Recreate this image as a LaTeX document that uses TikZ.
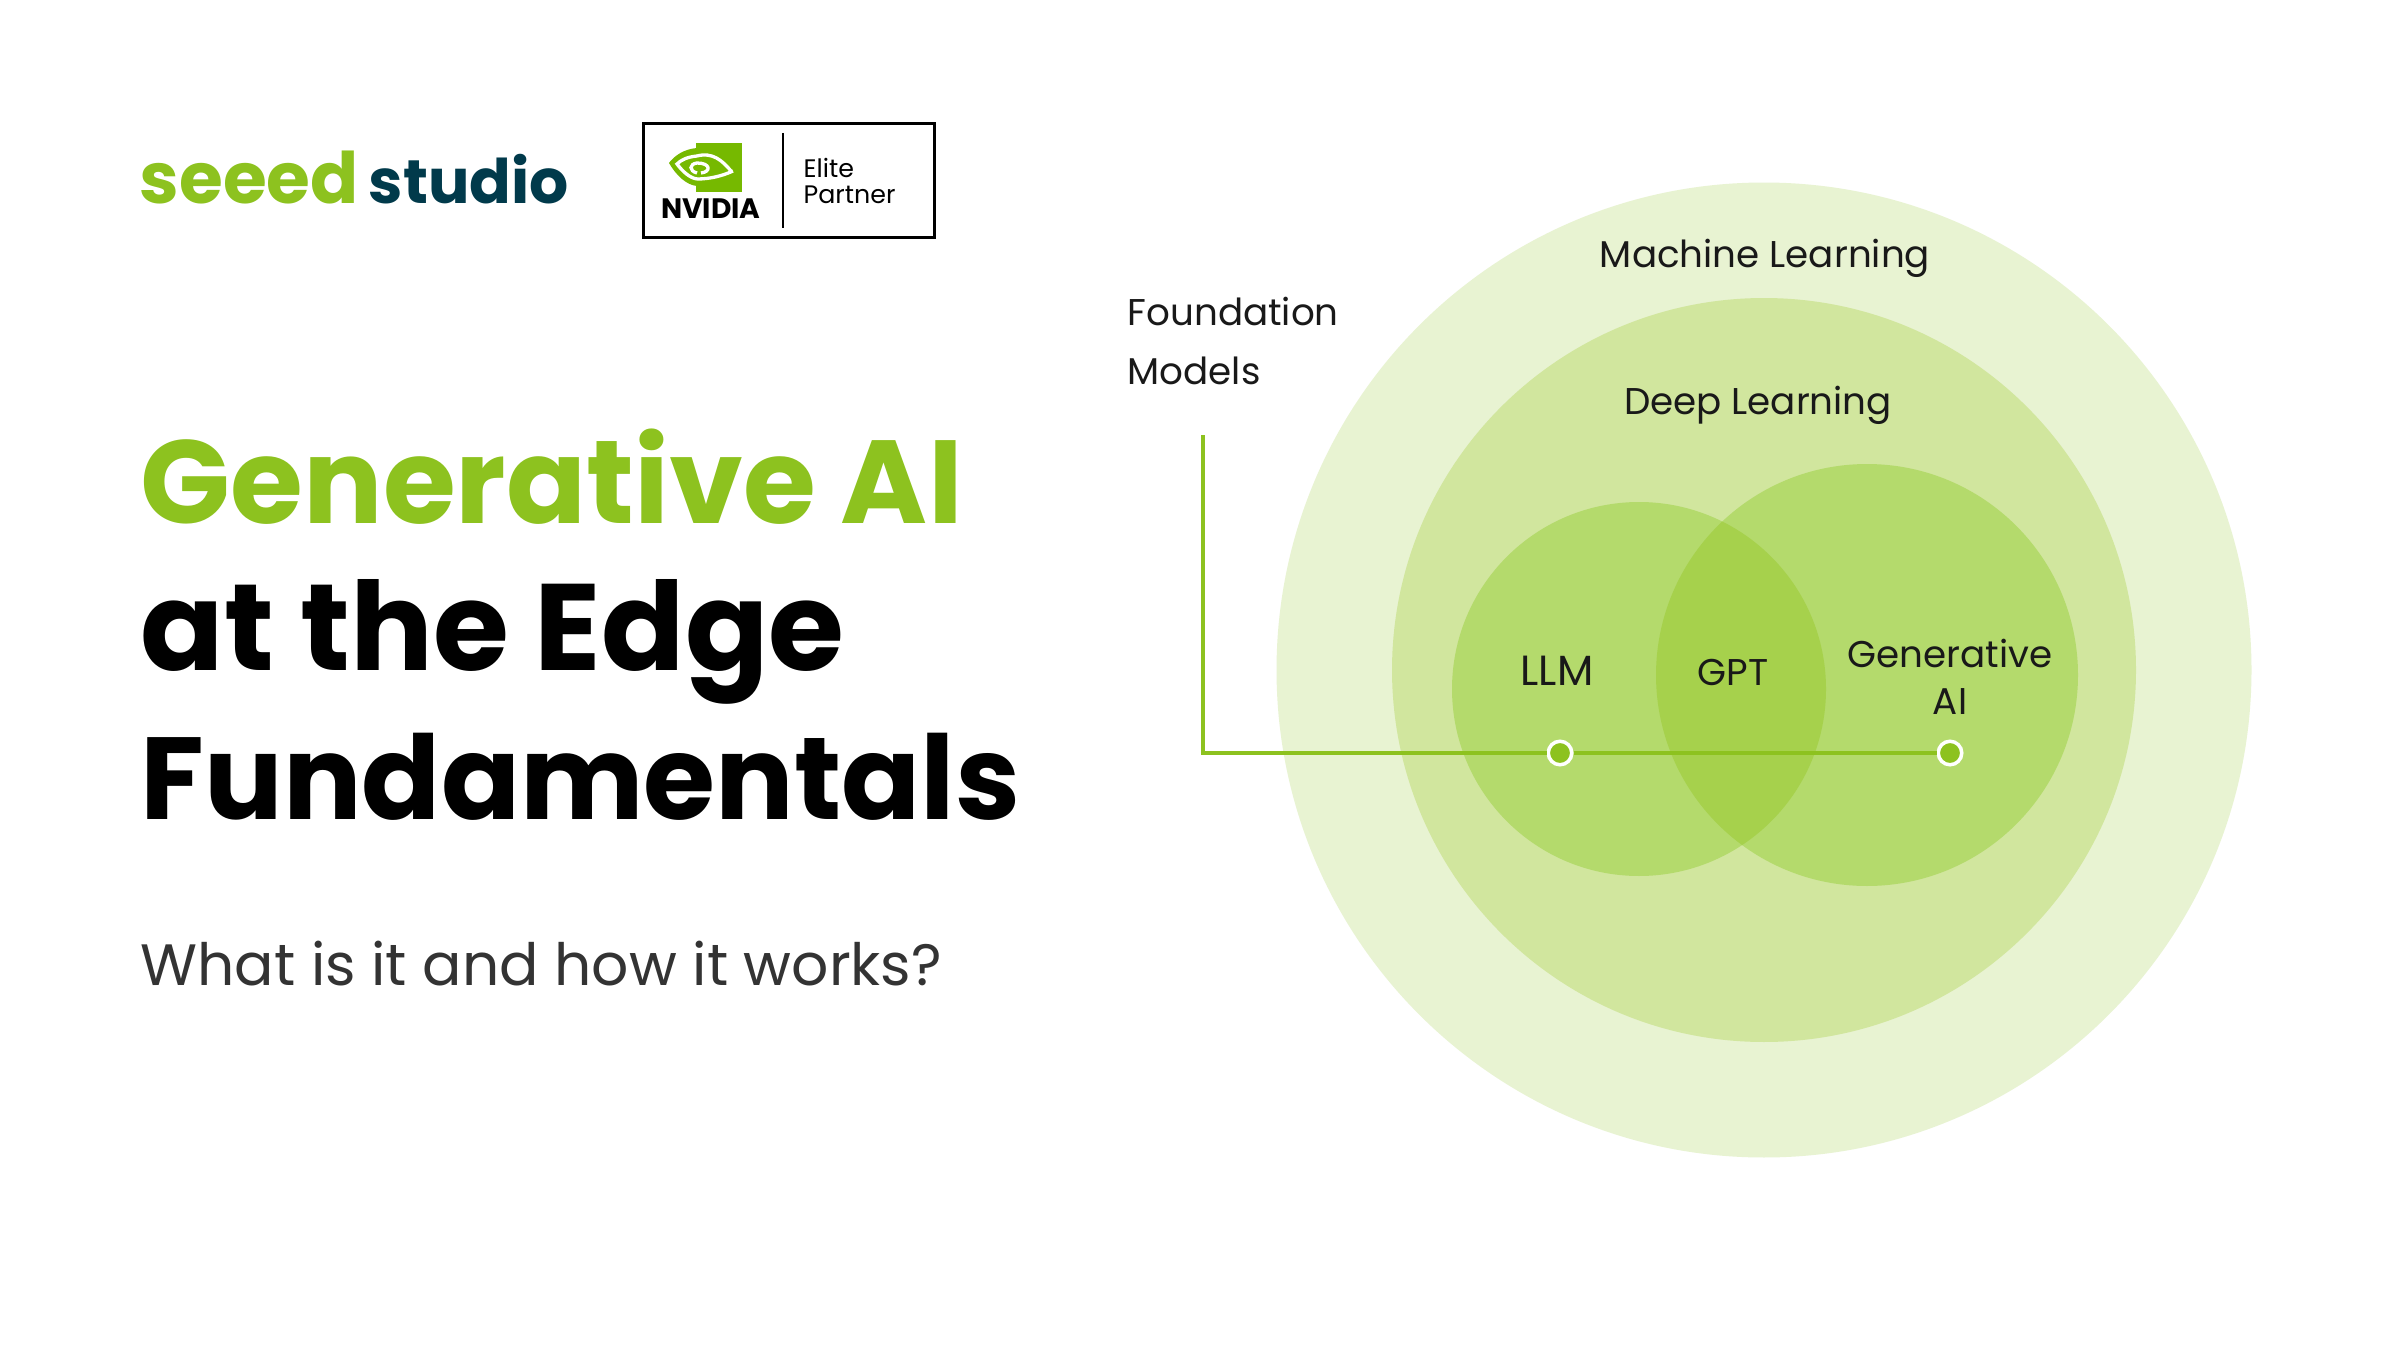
\documentclass[tikz,border=0pt]{standalone}
\usepackage{fontspec}
\setmainfont{Poppins}
\usetikzlibrary{positioning, calc}

\definecolor{seeedgreen}{HTML}{8DC21F}
\definecolor{seeednavy}{HTML}{013A4B}
\definecolor{nvgreen}{HTML}{76B900}
\definecolor{ringa}{HTML}{E8F3D2}
\definecolor{ringb}{HTML}{D1E69E}
\definecolor{ringc}{HTML}{B4DA6C}
\definecolor{ringd}{HTML}{A6D14C}
\definecolor{subgray}{HTML}{333333}

\begin{document}
\begin{tikzpicture}[
    x=0.1mm, y=-0.1mm,
    ring/.style={circle, draw=none, inner sep=0pt, minimum size=#1*0.2mm},
    title/.style={anchor=base west, font=\fontsize{#1}{#1}\selectfont\bfseries, inner sep=0pt},
    label/.style={anchor=base, font=\fontsize{10.6}{12}\selectfont, text=black!90, inner sep=0pt, align=center},
    dot/.style={circle, draw=white, line width=0.35mm, fill=seeedgreen, inner sep=0pt, minimum size=2.35mm},
    link/.style={draw=seeedgreen, line width=0.4mm},
    logotext/.style={anchor=base west, inner sep=0pt, font=\fontsize{#1}{18}\selectfont\bfseries},
    badgetext/.style={anchor=base west, inner sep=0pt, font=\fontsize{7.2}{8}\selectfont},
    eyeline/.style={white, line width=0.33mm},
]
    \useasboundingbox[fill=white] (0,0) rectangle (2400,1350);

    % logos
    \node[logotext=20.2, text=seeedgreen] (seeed) at (139,204) {seeed};
    \node[logotext=17.5, text=seeednavy] (studio) at (368,204) {studio};
    \node[draw=black, line width=0.3mm, minimum width=29.1mm, minimum height=11.4mm, inner sep=0pt] (badge) at (789,180.5) {};
    \draw[line width=0.15mm] (783,133) -- (783,228);
    \fill[nvgreen] (696,143) rectangle (742,192);
    \fill[nvgreen] (697,148) .. controls (684,149) and (674,156) .. (669,163)
        .. controls (676,175) and (686,185) .. (697,186) -- cycle;
    \draw[eyeline] (697,156) .. controls (687,157) and (681,160) .. (677,164)
        .. controls (683,172) and (690,178) .. (697,179);
    \draw[eyeline] (697,179) .. controls (710,179) and (722,176) .. (733,171);
    \draw[eyeline] (697,156) .. controls (712,152) and (722,160) .. (731,171);
    \draw[eyeline] (701,173) .. controls (711,172) and (711,163) .. (697,163)
        .. controls (689,164) and (689,171) .. (697,173);
    \node[anchor=base, inner sep=0pt, font=\fontsize{8}{9}\selectfont\bfseries] (nvidia) at (711,219) {NVIDIA};
    \node[badgetext] (elite) at (803,178) {Elite};
    \node[badgetext] (partner) at (803,203) {Partner};

    % headline
    \node[title=33.6, text=seeedgreen] (gen)  at (140,523) {Generative AI};
    \node[title=35,   text=black]      (edge) at (140,670) {at the Edge};
    \node[title=33.2, text=black]      (fund) at (140,819) {Fundamentals};
    \node[anchor=base west, inner sep=0pt, font=\fontsize{16.6}{17}\selectfont, text=subgray] (sub) at (140,985) {What is it and how it works?};

    % nested rings
    \node[ring=487.5, fill=ringa] (ml)  at (1764,670) {};
    \node[ring=372,   fill=ringb] (dl)  at (1764,670) {};
    \node[ring=187,   fill=ringc] (llm) at (1639,689) {};
    \node[ring=211,   fill=ringc] (gai) at (1867,675) {};
    \begin{scope}
        \clip (1639,689) circle [radius=187];
        \node[ring=211, fill=ringd] (gpt) at (1867,675) {};
    \end{scope}

    % labels
    \node[label] (mltext)  at (1765,268) {Machine Learning};
    \node[label] (dltext)  at (1758,414) {Deep Learning};
    \node[label, font=\fontsize{12}{12}\selectfont] (llmtext) at (1557,685) {LLM};
    \node[label] (gpttext) at (1733,685) {GPT};
    \node[label] (gaitext) at (1950,667) {Generative};
    \node[label] (aitext)  at (1950,714) {AI};
    \node[label, anchor=base west] (fmtext)  at (1127,325) {Foundation};
    \node[label, anchor=base west] (modtext) at (1127,384) {Models};

    % connector
    \coordinate (start) at (1203,435);
    \node[dot] (dota) at (1560,753) {};
    \node[dot] (dotb) at (1950,753) {};
    \draw[link] (start) |- (dota);
    \draw[link] (dota) -- (dotb);
\end{tikzpicture}
\end{document}
